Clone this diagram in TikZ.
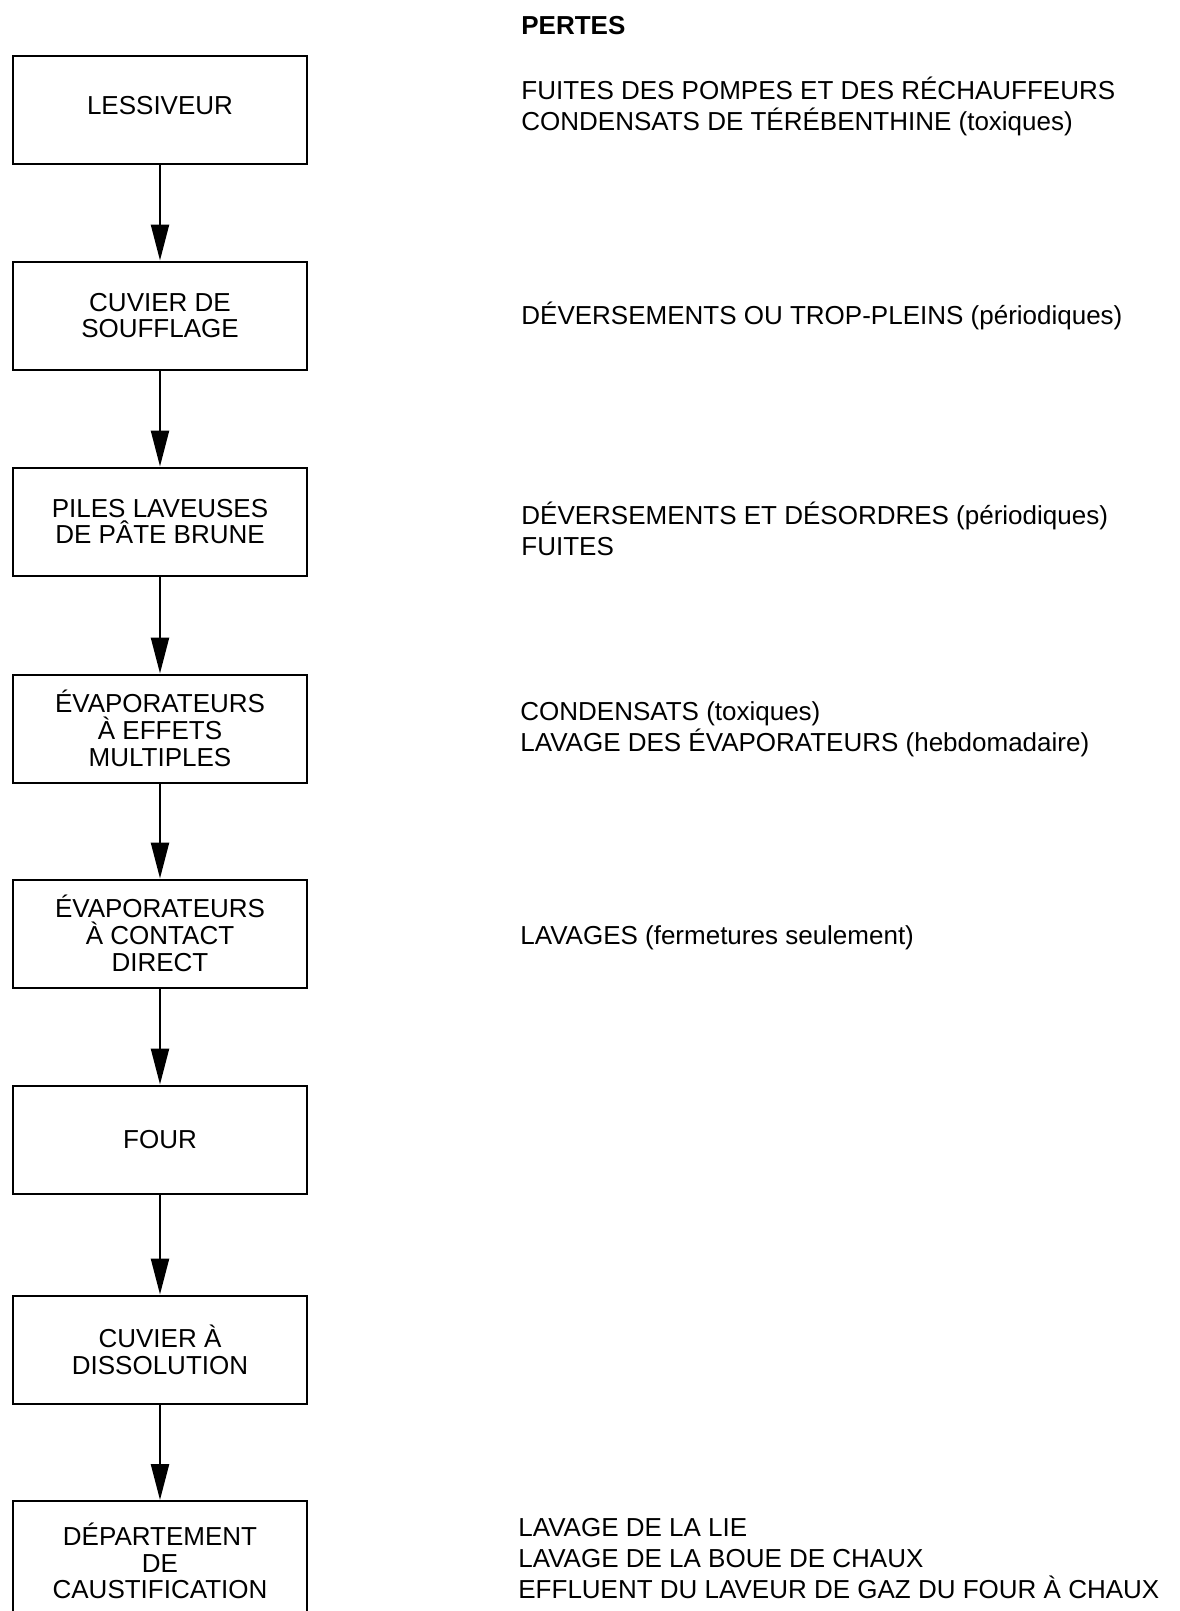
\documentclass[tikz,border=0pt]{standalone}
\usepackage{fontspec}
\setmainfont{Liberation Sans}
\usetikzlibrary{arrows.meta}
\begin{document}
\begin{tikzpicture}[x=0.5pt,y=-0.5pt,
  stage/.style={draw, line width=1pt, minimum width=147pt, minimum height=54pt,
    inner sep=0pt, align=center, font=\fontsize{13}{13.4}\selectfont},
  loss/.style={anchor=base west, inner sep=0pt, align=left,
    font=\fontsize{13}{15.4}\selectfont},
  flow/.style={-{Triangle[length=18pt,width=9pt]}, line width=1.2pt}]
\useasboundingbox (0,0) rectangle (1179,1611);
\clip (0,0) rectangle (1179,1611);

% process stages
\node[stage, text height=9.4pt, text depth=5pt] (s1) at (160,110) {LESSIVEUR};
\node[stage] (s2) at (160,315.5) {CUVIER DE\\SOUFFLAGE};
\node[stage] (s3) at (160,521.5) {PILES LAVEUSES\\DE PÂTE BRUNE};
\node[stage] (s4) at (160,728.5) {ÉVAPORATEURS\\À EFFETS\\MULTIPLES};
\node[stage] (s5) at (160,933.5) {ÉVAPORATEURS\\À CONTACT\\DIRECT};
\node[stage] (s6) at (160,1139.5) {FOUR};
\node[stage] (s7) at (160,1349.5) {CUVIER À\\DISSOLUTION};
\node[stage, minimum height=60pt] (s8) at (160,1561) {DÉPARTEMENT\\DE\\CAUSTIFICATION};

% flow between stages
\foreach \a/\b in {s1/s2,s2/s3,s3/s4,s4/s5,s5/s6,s6/s7,s7/s8}
  \draw[flow] (\a) -- (\b);

% losses column (anchored on the baseline of the last line)
\node[loss, font=\fontsize{13}{15.4}\selectfont\bfseries] (head) at (521,35) {PERTES};
\node[loss] (p1) at (521,130.5) {FUITES DES POMPES ET DES RÉCHAUFFEURS\\CONDENSATS DE TÉRÉBENTHINE (toxiques)};
\node[loss] (p2) at (521,324.3) {DÉVERSEMENTS OU TROP-PLEINS (périodiques)};
\node[loss] (p3) at (521,555) {DÉVERSEMENTS ET DÉSORDRES (périodiques)\\FUITES};
\node[loss] (p4) at (520,751) {CONDENSATS (toxiques)\\LAVAGE DES ÉVAPORATEURS (hebdomadaire)};
\node[loss] (p5) at (520,944) {LAVAGES (fermetures seulement)};
\node[loss] (p8) at (518,1598) {LAVAGE DE LA LIE\\LAVAGE DE LA BOUE DE CHAUX\\EFFLUENT DU LAVEUR DE GAZ DU FOUR À CHAUX};
\end{tikzpicture}
\end{document}
